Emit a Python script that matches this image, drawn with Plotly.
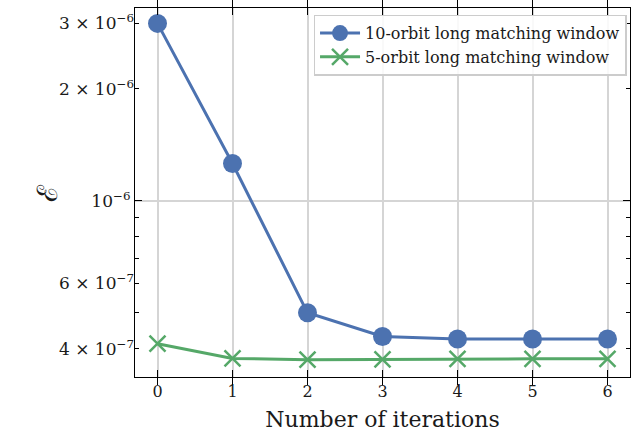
import math
import plotly.graph_objects as go

# Convergence of the error measure over iterations
iterations = [0, 1, 2, 3, 4, 5, 6]
err_10_orbit = [3.0e-6, 1.26e-6, 5.0e-7, 4.32e-7, 4.25e-7, 4.25e-7, 4.25e-7]
err_5_orbit = [4.13e-7, 3.77e-7, 3.74e-7, 3.75e-7, 3.76e-7, 3.76e-7, 3.76e-7]

series_names = ["10-orbit long matching window", "5-orbit long matching window"]

# y-axis ticks: decade tick with grid, labelled minor ticks, unlabelled minor ticks
major_y = [1e-6]
major_y_text = ["10<sup>−6</sup>"]
labelled_minor_y = [4e-7, 6e-7, 2e-6, 3e-6]
labelled_minor_text = ["4 × 10<sup>−7</sup>", "6 × 10<sup>−7</sup>",
                       "2 × 10<sup>−6</sup>", "3 × 10<sup>−6</sup>"]
minor_y = [4e-7, 5e-7, 6e-7, 7e-7, 8e-7, 9e-7, 2e-6, 3e-6]

y_limits = [3.36e-7, 3.30e-6]
x_limits = [-0.3, 6.3]

BLUE = "#4C72B0"
GREEN = "#55A868"
FONT = "DejaVu Serif"

fig = go.Figure()
fig.add_trace(go.Scatter(
    x=iterations, y=err_10_orbit, name=series_names[0], mode="lines+markers",
    line=dict(color=BLUE, width=3),
    marker=dict(symbol="circle", size=19, color=BLUE),
))
fig.add_trace(go.Scatter(
    x=iterations, y=err_5_orbit, name=series_names[1], mode="lines+markers",
    line=dict(color=GREEN, width=3),
    marker=dict(symbol="x-thin", size=16, color=GREEN,
                line=dict(color=GREEN, width=2.5)),
))
# invisible trace carrying the labelled-minor-tick axis
fig.add_trace(go.Scatter(x=[None], y=[None], yaxis="y2", showlegend=False,
                         hoverinfo="skip"))

log_range = [math.log10(y_limits[0]), math.log10(y_limits[1])]

fig.update_layout(
    width=639, height=432,
    margin=dict(l=135, r=9, t=8, b=55),
    paper_bgcolor="white", plot_bgcolor="white",
    font=dict(family=FONT, color="#1a1a1a", size=16),
    xaxis=dict(
        range=x_limits, tickvals=iterations, automargin=False,
        ticks="inside", ticklen=7, tickwidth=1, tickcolor="black",
        showline=True, linecolor="black", linewidth=1.2, mirror="allticks",
        showgrid=True, gridcolor="#d5d5d5", gridwidth=1.6, zeroline=False,
        tickfont=dict(size=16, family=FONT),
        title=dict(text="Number of iterations", font=dict(size=22, family=FONT),
                   standoff=12),
    ),
    yaxis=dict(
        type="log", range=log_range, automargin=False,
        tickvals=major_y, ticktext=major_y_text,
        ticks="inside", ticklen=7, tickwidth=1, tickcolor="black",
        showline=True, linecolor="black", linewidth=1.2, mirror="allticks",
        showgrid=True, gridcolor="#d5d5d5", gridwidth=1.6, zeroline=False,
        tickfont=dict(size=17, family=FONT),
        minor=dict(tickvals=minor_y, ticks="inside", ticklen=3.5,
                   tickwidth=1, tickcolor="black", showgrid=False),
    ),
    yaxis2=dict(
        type="log", range=log_range, overlaying="y", side="left",
        automargin=False,
        tickvals=labelled_minor_y, ticktext=labelled_minor_text,
        ticks="", showgrid=False, showline=False, zeroline=False,
        tickfont=dict(size=17, family=FONT),
    ),
    legend=dict(
        x=0.993, y=0.982, xanchor="right", yanchor="top",
        bgcolor="rgba(255,255,255,0.85)", bordercolor="#cccccc", borderwidth=1.5,
        font=dict(size=16, family=FONT), itemwidth=40, tracegroupgap=0,
    ),
    annotations=[dict(
        text="ℰ", xref="paper", yref="paper", x=-0.215, y=0.5,
        textangle=-90, showarrow=False, font=dict(size=28, family=FONT),
    )],
)

fig.write_html("out.html")
